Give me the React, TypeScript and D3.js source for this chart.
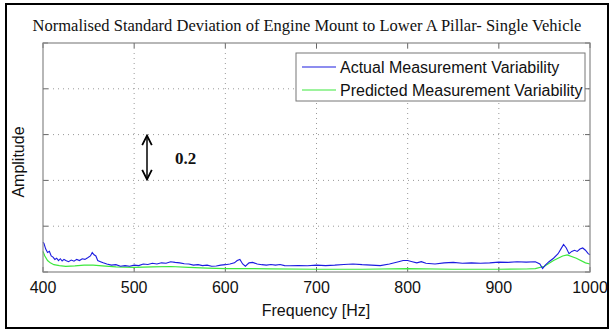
import React from "react";
import * as d3 from "d3";

const title = "Normalised Standard Deviation of Engine Mount to Lower A Pillar- Single Vehicle";
const xTicks = [400, 500, 600, 700, 800, 900, 1000];
const yTicks = [0, 0.2, 0.4, 0.6, 0.8, 1.0];
const seriesNames = ["Actual Measurement Variability", "Predicted Measurement Variability"];
const seriesColors = ["#1c1ce0", "#3de83d"];

const actualFreq = [400, 401, 403, 405, 407, 409, 411, 413, 415, 417, 419, 421, 423, 425, 428, 431, 434, 437, 440, 443, 446, 449, 452, 454, 456, 458, 460, 463, 466, 470, 475, 480, 485, 490, 495, 500, 505, 510, 515, 520, 525, 530, 535, 540, 545, 550, 555, 560, 565, 570, 575, 580, 585, 590, 595, 600, 605, 610, 613, 616, 619, 622, 626, 630, 635, 640, 645, 650, 655, 660, 665, 670, 680, 690, 700, 710, 720, 730, 740, 750, 760, 770, 780, 790, 795, 800, 805, 810, 815, 820, 830, 840, 850, 860, 870, 880, 890, 900, 910, 920, 930, 940, 945, 948, 951, 955, 960, 965, 968, 971, 974, 977, 980, 983, 986, 989, 992, 995, 998, 1000];
const actualAmp = [0.13, 0.125, 0.1, 0.085, 0.09, 0.07, 0.065, 0.055, 0.06, 0.05, 0.058, 0.048, 0.055, 0.05, 0.045, 0.052, 0.047, 0.055, 0.05, 0.058, 0.055, 0.062, 0.07, 0.085, 0.075, 0.07, 0.05, 0.045, 0.04, 0.035, 0.03, 0.032, 0.025, 0.028, 0.025, 0.03, 0.028, 0.035, 0.033, 0.038, 0.035, 0.04, 0.038, 0.045, 0.042, 0.04, 0.036, 0.035, 0.03, 0.032, 0.028, 0.03, 0.025, 0.026, 0.03, 0.032, 0.035, 0.04, 0.05, 0.055, 0.035, 0.025, 0.04, 0.042, 0.035, 0.032, 0.03, 0.033, 0.03, 0.033, 0.028, 0.027, 0.028, 0.027, 0.03, 0.028, 0.03, 0.033, 0.035, 0.032, 0.03, 0.028, 0.035, 0.045, 0.05, 0.05, 0.045, 0.04, 0.045, 0.038, 0.035, 0.04, 0.042, 0.038, 0.04, 0.038, 0.04, 0.043, 0.042, 0.045, 0.043, 0.045, 0.035, 0.015, 0.03, 0.045, 0.06, 0.08, 0.1, 0.12, 0.105, 0.08, 0.09, 0.095, 0.09, 0.1, 0.105, 0.095, 0.08, 0.075];

const predictedFreq = [400, 402, 405, 408, 412, 418, 425, 435, 445, 455, 465, 480, 500, 520, 540, 560, 580, 600, 650, 700, 750, 800, 850, 900, 930, 940, 950, 960, 970, 975, 985, 995, 1000];
const predictedAmp = [0.09, 0.07, 0.05, 0.04, 0.032, 0.028, 0.025, 0.027, 0.03, 0.03, 0.027, 0.022, 0.02, 0.022, 0.024, 0.02, 0.017, 0.015, 0.014, 0.012, 0.012, 0.015, 0.012, 0.012, 0.013, 0.015, 0.025, 0.05, 0.07, 0.075, 0.06, 0.04, 0.035];

const W = 613, H = 331;
const L = 43, R = 590, T = 43, B = 272;

export default function App() {
  const x = d3.scaleLinear().domain([400, 1000]).range([L, R]);
  const y = d3.scaleLinear().domain([0, 1]).range([B, T]);
  const line = d3.line<[number, number]>().x(d => x(d[0])).y(d => y(d[1]));
  const actual = actualFreq.map((f, i) => [f, actualAmp[i]] as [number, number]);
  const predicted = predictedFreq.map((f, i) => [f, predictedAmp[i]] as [number, number]);
  const sans = "Arial, 'Liberation Sans', sans-serif";
  const serif = "'Times New Roman', 'Liberation Serif', serif";
  return (
    <svg width={W} height={H} style={{ position: "absolute", left: 0, top: 0 }}>
      <rect x={0} y={0} width={W} height={H} fill="#fff" />
      <rect x={6} y={4} width={602} height={324} fill="none" stroke="#000" strokeWidth={2} />
      <text x={307} y={31} textAnchor="middle" fontFamily={serif} fontSize={16.5} fill="#111">{title}</text>
      {/* grid */}
      {xTicks.slice(1, -1).map(t => (
        <line key={"gx" + t} x1={x(t)} x2={x(t)} y1={T} y2={B} stroke="#999" strokeDasharray="1,4" />
      ))}
      {yTicks.slice(1, -1).map(t => (
        <line key={"gy" + t} x1={L} x2={R} y1={y(t)} y2={y(t)} stroke="#999" strokeDasharray="1,4" />
      ))}
      {/* ticks */}
      {xTicks.map(t => (
        <g key={"tx" + t}>
          <line x1={x(t)} x2={x(t)} y1={B} y2={B - 5} stroke="#666" />
          <line x1={x(t)} x2={x(t)} y1={T} y2={T + 5} stroke="#666" />
          <text x={x(t)} y={293} textAnchor="middle" fontFamily={sans} fontSize={16} fill="#111">{t}</text>
        </g>
      ))}
      {yTicks.map(t => (
        <g key={"ty" + t}>
          <line x1={L} x2={L + 5} y1={y(t)} y2={y(t)} stroke="#666" />
          <line x1={R} x2={R - 5} y1={y(t)} y2={y(t)} stroke="#666" />
        </g>
      ))}
      <path d={line(predicted) || ""} fill="none" stroke={seriesColors[1]} strokeWidth={1.2} />
      <path d={line(actual) || ""} fill="none" stroke={seriesColors[0]} strokeWidth={1.1} />
      <rect x={L} y={T} width={R - L} height={B - T} fill="none" stroke="#888" strokeWidth={1.2} />
      {/* legend */}
      <rect x={296} y={53} width={289} height={48} fill="#fff" stroke="#777" />
      {seriesNames.map((n, i) => (
        <g key={n}>
          <line x1={302} x2={336} y1={67 + i * 23} y2={67 + i * 23} stroke={seriesColors[i]} strokeWidth={1.2} />
          <text x={340} y={73 + i * 23} fontFamily={sans} fontSize={16} fill="#111">{n}</text>
        </g>
      ))}
      {/* annotation */}
      <defs>
        <marker id="ah" viewBox="0 0 10 10" refX="9" refY="5" markerWidth="8" markerHeight="8" orient="auto-start-reverse">
          <path d="M1,1 L9,5 L1,9" fill="none" stroke="#000" strokeWidth={1.5} />
        </marker>
      </defs>
      <line x1={147} x2={147} y1={y(0.6) + 1} y2={y(0.4) - 1} stroke="#000" strokeWidth={1.5} markerStart="url(#ah)" markerEnd="url(#ah)" />
      <text x={175} y={164} fontFamily={serif} fontWeight="bold" fontSize={17} fill="#111">0.2</text>
      <text x={316} y={316} textAnchor="middle" fontFamily={sans} fontSize={16} fill="#111">Frequency [Hz]</text>
      <text transform={`translate(24,162) rotate(-90)`} textAnchor="middle" fontFamily={sans} fontSize={16} fill="#111">Amplitude</text>
    </svg>
  );
}
